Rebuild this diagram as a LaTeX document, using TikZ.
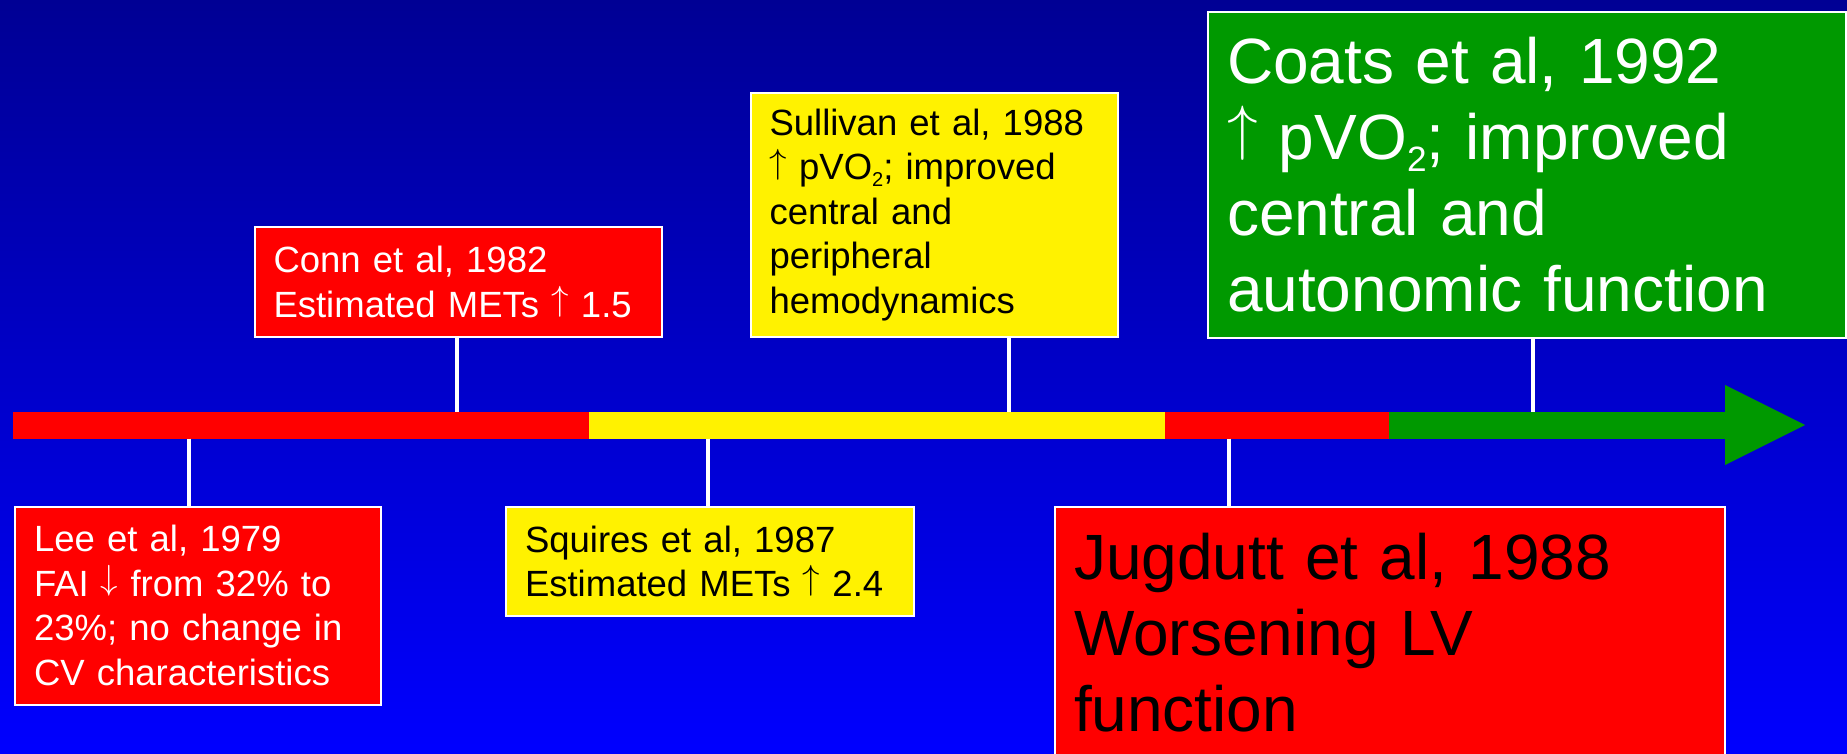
\documentclass[tikz,border=0pt]{standalone}
\usepackage{graphicx}
\usepackage{fontspec}
\setmainfont{Liberation Sans}
\usetikzlibrary{positioning}
\definecolor{slidetop}{RGB}{0,0,148}
\definecolor{slidebottom}{RGB}{0,0,255}
\definecolor{bargreen}{RGB}{0,153,0}
\newcommand{\studyup}{\raisebox{0.18em}{\resizebox*{!}{0.85em}{\fontsize{10}{12}\selectfont$\uparrow$}}}
\newcommand{\studydown}{\raisebox{0.18em}{\resizebox*{!}{0.85em}{\fontsize{10}{12}\selectfont$\downarrow$}}}
\newcommand{\subtwo}{\raisebox{-0.19em}{\scalebox{0.55}{2}}}

\begin{document}
\begin{tikzpicture}[x=1pt, y=-1pt,
  smallcard/.style={draw=white, line width=2pt, anchor=north west, inner xsep=19pt, inner ysep=0pt, align=left, font=\fontsize{36.5}{44.5}\selectfont},
  bigcard/.style={smallcard, font=\fontsize{64}{76}\selectfont},
  tick/.style={white, line width=4pt}]
\useasboundingbox (0,0) rectangle (1847,754);
\shade[top color=slidetop, bottom color=slidebottom] (0,0) rectangle (1847,754);
% time line
\fill[red]      (13,411.5)   rectangle (589,438.5);
\fill[yellow]   (589,411.5)  rectangle (1165,438.5);
\fill[red]      (1165,411.5) rectangle (1389,438.5);
\fill[bargreen] (1389,411.5) rectangle (1725.5,438.5);
\fill[bargreen] (1725,385) -- (1805,425) -- (1725,465) -- cycle;
% studies
\node[smallcard, fill=red, text=white, text width=328pt, minimum height=198pt]    (lee)      at (14,505.5)   {Lee et al, 1979\\FAI \studydown{} from 32\% to\\23\%; no change in\\CV characteristics};
\node[smallcard, fill=red, text=white, text width=369.5pt, minimum height=109pt]  (conn)     at (253.5,226.5) {Conn et al, 1982\\Estimated METs \studyup{} 1.5};
\node[smallcard, fill=yellow, text width=369.5pt, minimum height=109.5pt]         (squires)  at (505,505.5)  {Squires et al, 1987\\Estimated METs \studyup{} 2.4};
\node[smallcard, fill=yellow, text width=329pt, minimum height=244pt]             (sullivan) at (749.5,92)   {Sullivan et al, 1988\\\studyup{} pVO\subtwo; improved\\central and\\peripheral\\hemodynamics};
\node[bigcard, fill=bargreen, text=white, text width=599.5pt, minimum height=325.5pt] (coats) at (1207,11)  {Coats et al, 1992\\\studyup{} pVO\subtwo; improved\\central and\\autonomic function};
\node[bigcard, fill=red, text width=632pt, minimum height=251pt]                  (jugdutt)  at (1054,506)   {Jugdutt et al, 1988\\Worsening LV\\function};
% ticks
\coordinate (y1979) at (188.5,438.5);
\coordinate (y1982) at (457,411.5);
\coordinate (y1987) at (708,438.5);
\coordinate (y1988s) at (1009,411.5);
\coordinate (y1988j) at (1228.5,438.5);
\coordinate (y1992) at (1533,411.5);
\draw[tick] (y1979) -- (y1979 |- lee.north);
\draw[tick] (y1982) -- (y1982 |- conn.south);
\draw[tick] (y1987) -- (y1987 |- squires.north);
\draw[tick] (y1988s) -- (y1988s |- sullivan.south);
\draw[tick] (y1988j) -- (y1988j |- jugdutt.north);
\draw[tick] (y1992) -- (y1992 |- coats.south);
\end{tikzpicture}
\end{document}
